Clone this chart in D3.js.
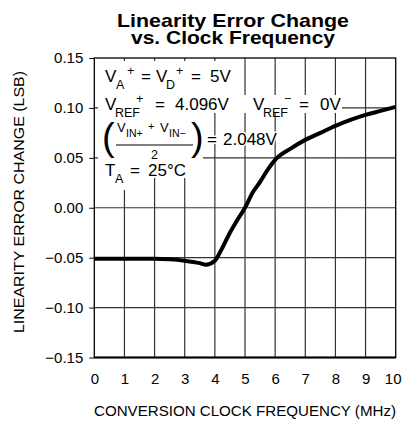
<!DOCTYPE html>
<html>
<head>
<meta charset="utf-8">
<script src="https://cdn.jsdelivr.net/npm/d3@7"></script>
<style>
  body { margin: 0; background: #fff; }
  svg text { font-family: "Liberation Sans", Arial, sans-serif; fill: #000; }
</style>
</head>
<body>
<div class="canvas"></div>
<script>
// ---- data ----
const freqMHz = [0, 1, 2, 2.5, 3, 3.5, 3.7, 4, 4.25, 4.5, 4.75, 5, 5.25, 5.5, 5.75, 6, 6.5, 7, 7.5, 8, 8.5, 9, 9.5, 10];
const errLSB = [-0.051, -0.051, -0.051, -0.0515, -0.053, -0.0555, -0.057, -0.053, -0.04, -0.025, -0.012, 0.0, 0.015, 0.026, 0.038, 0.048, 0.059, 0.068, 0.075, 0.082, 0.088, 0.093, 0.097, 0.101];
const xTicks = [0, 1, 2, 3, 4, 5, 6, 7, 8, 9, 10];
const yTicks = [-0.15, -0.10, -0.05, 0.00, 0.05, 0.10, 0.15];
const titleLines = ["Linearity Error Change", "vs. Clock Frequency"];

const width = 403, height = 426;
const margin = {top: 58, right: 7.3, bottom: 68.5, left: 94.3};
const FONT = '"Liberation Sans", Arial, sans-serif';

const svg = d3.select('.canvas').append('svg')
  .attr('width', width)
  .attr('height', height);

const x = d3.scaleLinear().domain([0, 10]).range([margin.left, width - margin.right]);
const y = d3.scaleLinear().domain([-0.15, 0.15]).range([height - margin.bottom, margin.top]);

// title
svg.selectAll('text.title')
  .data(titleLines)
  .enter().append('text')
    .attr('class', 'title')
    .attr('x', 233)
    .attr('y', (d, i) => 27 + i * 16.5)
    .attr('text-anchor', 'middle')
    .attr('textLength', (d, i) => i ? 204 : 232)
    .attr('lengthAdjust', 'spacingAndGlyphs')
    .style('font-weight', 'bold')
    .style('font-size', '19px')
    .text(d => d);

// grid
const grid = svg.append('g');
grid.selectAll('line.v')
  .data(xTicks.slice(1, -1))
  .enter().append('line')
    .attr('x1', d => x(d)).attr('x2', d => x(d))
    .attr('y1', y(0.15)).attr('y2', y(-0.15))
    .attr('stroke', '#333').attr('stroke-width', 1.2);
grid.selectAll('line.h')
  .data(yTicks.slice(1, -1))
  .enter().append('line')
    .attr('x1', x(0)).attr('x2', x(10))
    .attr('y1', d => y(d)).attr('y2', d => y(d))
    .attr('stroke', '#333').attr('stroke-width', 1.2);

// white masks behind the condition text block
const masks = [
  [98, 61, 238, 95], [98, 95, 342, 113], [98, 113, 203, 165],
  [98, 165, 140, 190], [140, 165, 200, 178]
];
svg.selectAll('rect.mask')
  .data(masks)
  .enter().append('rect')
    .attr('x', d => d[0]).attr('y', d => d[1])
    .attr('width', d => d[2] - d[0]).attr('height', d => d[3] - d[1])
    .attr('fill', '#fff');

// frame
svg.append('rect')
  .attr('x', x(0)).attr('y', y(0.15))
  .attr('width', x(10) - x(0)).attr('height', y(-0.15) - y(0.15))
  .attr('fill', 'none').attr('stroke', '#000').attr('stroke-width', 1.3);
svg.append('line')
  .attr('x1', x(0)).attr('x2', x(10))
  .attr('y1', y(-0.15)).attr('y2', y(-0.15))
  .attr('stroke', '#000').attr('stroke-width', 2);

// axes
const yAxis = svg.append('g')
  .attr('transform', `translate(${x(0)},0)`)
  .call(d3.axisLeft(y).tickValues(yTicks).tickSize(5).tickPadding(6)
    .tickFormat(d => d3.format('.2f')(d).replace('-', '\u2212')));
yAxis.select('.domain').remove();
yAxis.selectAll('text').style('font-size', '15px').style('font-family', FONT);

const xAxis = svg.append('g')
  .attr('transform', `translate(0,${y(-0.15)})`)
  .call(d3.axisBottom(x).tickValues(xTicks).tickSize(0).tickPadding(16));
xAxis.select('.domain').remove();
xAxis.selectAll('text').style('font-size', '15px').style('font-family', FONT)
  .attr('dx', d => d === 10 ? -3 : 0);

// axis titles
svg.append('text')
  .attr('x', x(5)).attr('y', 416)
  .attr('text-anchor', 'middle')
  .attr('textLength', 302).attr('lengthAdjust', 'spacingAndGlyphs')
  .style('font-size', '15px')
  .text('CONVERSION CLOCK FREQUENCY (MHz)');

svg.append('text')
  .attr('transform', 'translate(24,202) rotate(-90)')
  .attr('text-anchor', 'middle')
  .attr('textLength', 262).attr('lengthAdjust', 'spacingAndGlyphs')
  .style('font-size', '15px')
  .text('LINEARITY ERROR CHANGE (LSB)');

// curve
const line = d3.line()
  .x(d => x(d[0]))
  .y(d => y(d[1]))
  .curve(d3.curveMonotoneX);
svg.append('path')
  .datum(d3.zip(freqMHz, errLSB))
  .attr('d', line)
  .attr('fill', 'none')
  .attr('stroke', '#000')
  .attr('stroke-width', 4)
  .attr('stroke-linejoin', 'round');

// condition text: each piece placed at its own x, with baseline offset
function rich(yp, parts, halo = false) {
  const t = svg.append('text').attr('y', yp).style('font-size', '17px');
  if (halo) t.attr('stroke', '#fff').attr('stroke-width', 3).attr('paint-order', 'stroke');
  parts.forEach(p => {
    const off = p.s === 'sub' ? 7 : p.s === 'sup' ? -7 : 0;
    t.append('tspan')
      .attr('x', p.x)
      .attr('y', yp + off)
      .style('font-size', p.s ? '12.5px' : null)
      .text(p.t);
  });
  return t;
}

rich(82, [{x: 105, t: 'V'}, {x: 116, t: 'A', s: 'sub'}, {x: 127, t: '+', s: 'sup'},
  {x: 141, t: '='}, {x: 156, t: 'V'}, {x: 166, t: 'D', s: 'sub'}, {x: 176, t: '+', s: 'sup'},
  {x: 191, t: '='}, {x: 210, t: '5V'}]);
rich(110, [{x: 105, t: 'V'}, {x: 115, t: 'REF', s: 'sub'}, {x: 136, t: '+', s: 'sup'},
  {x: 155, t: '='}, {x: 175, t: '4.096V'}]);
rich(110, [{x: 253, t: 'V'}, {x: 263, t: 'REF', s: 'sub'}, {x: 284, t: '\u2212', s: 'sup'},
  {x: 299, t: '='}, {x: 320, t: '0V'}]);
rich(176, [{x: 105, t: 'T'}, {x: 115, t: 'A', s: 'sub'}, {x: 130, t: '='}, {x: 148, t: '25\u00B0C'}]);

// fraction (V_IN+ + V_IN-)/2
const fr = svg.append('g');
fr.append('text').attr('x', 102).attr('y', 150).style('font-size', '38px').style('font-weight', '200').text('(');
fr.append('text').attr('x', 191).attr('y', 150).style('font-size', '38px').style('font-weight', '200').text(')');
const num = fr.append('text').attr('y', 132).style('font-size', '13px');
num.append('tspan').attr('x', 117).text('V');
num.append('tspan').attr('x', 126).attr('y', 137).style('font-size', '10.5px').text('IN+');
num.append('tspan').attr('x', 148).attr('y', 130).style('font-size', '11px').text('+');
num.append('tspan').attr('x', 160).attr('y', 132).text('V');
num.append('tspan').attr('x', 169).attr('y', 137).style('font-size', '10.5px').text('IN\u2212');
fr.append('line').attr('x1', 116).attr('x2', 193).attr('y1', 145).attr('y2', 145).attr('stroke', '#000').attr('stroke-width', 1);
fr.append('text').attr('x', 151).attr('y', 159).style('font-size', '12.5px').text('2');
rich(145, [{x: 207, t: '='}, {x: 223, t: '2.048V'}], true);
</script>
</body>
</html>
